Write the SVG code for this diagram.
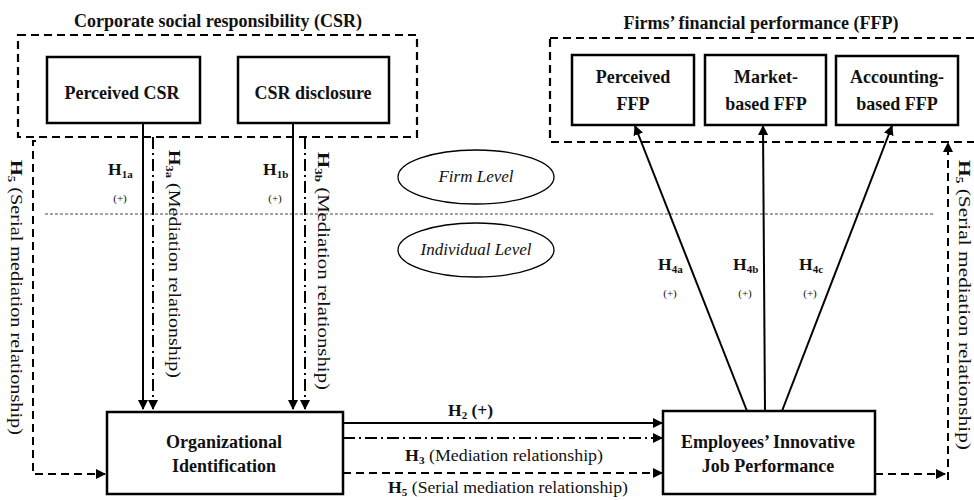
<svg xmlns="http://www.w3.org/2000/svg" width="974" height="500" viewBox="0 0 974 500">
<defs>
<marker id="ah" viewBox="0 0 10 10" refX="9" refY="5" markerWidth="10" markerHeight="10" markerUnits="userSpaceOnUse" orient="auto">
<path d="M0,0 L10,5 L0,10 z" fill="#000"/>
</marker>
</defs>
<style>
text{font-family:"Liberation Serif","Times New Roman",serif;fill:#111;}
.b{font-weight:bold;}
.box{fill:#fff;stroke:#000;stroke-width:2.5;}
.grp{fill:none;stroke:#000;stroke-width:2.2;stroke-dasharray:8,5;}
.solid{fill:none;stroke:#000;stroke-width:2;}
.dd{fill:none;stroke:#000;stroke-width:2;stroke-dasharray:12,4,2,4;}
.dash{fill:none;stroke:#000;stroke-width:2;stroke-dasharray:8,5;}
.ttl{font-size:18px;font-weight:bold;text-anchor:middle;}
.nt{font-size:18px;font-weight:bold;text-anchor:middle;}
.lbl{font-size:17.5px;}
.sm{font-size:11px;}
.pl{font-size:11px;text-anchor:middle;}
.lvl{font-size:17px;font-style:italic;text-anchor:middle;}
</style>

<g id="csr-group">
<rect class="grp" x="18" y="35" width="399" height="102"/>
<text class="ttl" x="218" y="27">Corporate social responsibility (CSR)</text>
</g>
<g id="ffp-group">
<rect class="grp" x="550" y="38" width="440" height="104"/>
<text class="ttl" x="761" y="29">Firms’ financial performance (FFP)</text>
</g>

<g id="levels">
<line x1="45" y1="214" x2="933" y2="214" stroke="#444" stroke-width="1" stroke-dasharray="3,2"/>
<g id="firm-level">
<ellipse cx="476" cy="177" rx="78" ry="27" fill="none" stroke="#000" stroke-width="1.3"/>
<text class="lvl" x="476" y="182">Firm Level</text>
</g>
<g id="individual-level">
<ellipse cx="476" cy="250" rx="78" ry="27" fill="none" stroke="#000" stroke-width="1.3"/>
<text class="lvl" x="476" y="255">Individual Level</text>
</g>
</g>

<g id="connectors">
<line class="solid" x1="143" y1="123" x2="143" y2="409" marker-end="url(#ah)"/>
<line class="dd" x1="153" y1="137" x2="153" y2="409" marker-end="url(#ah)"/>
<line class="solid" x1="293" y1="123" x2="293" y2="409" marker-end="url(#ah)"/>
<line class="dd" x1="305" y1="137" x2="305" y2="409" marker-end="url(#ah)"/>
<line class="solid" x1="343" y1="423" x2="662" y2="423" marker-end="url(#ah)"/>
<line class="dd" x1="343" y1="438" x2="662" y2="438" marker-end="url(#ah)"/>
<line class="dash" x1="343" y1="473" x2="662" y2="473" marker-end="url(#ah)"/>
<polyline class="dash" points="36,141 33,141 33,474 105,474" marker-end="url(#ah)"/>
<line class="dash" x1="875" y1="474" x2="945" y2="474" marker-end="url(#ah)"/>
<line class="dash" x1="948" y1="480" x2="948" y2="143" marker-end="url(#ah)"/>
<line class="solid" x1="747" y1="411" x2="635" y2="126" marker-end="url(#ah)"/>
<line class="solid" x1="765" y1="411" x2="763" y2="126" marker-end="url(#ah)"/>
<line class="solid" x1="782" y1="411" x2="892" y2="126" marker-end="url(#ah)"/>
</g>

<g id="perceived-csr">
<rect class="box" x="47" y="57" width="153" height="66"/>
<text class="nt" x="122" y="99">Perceived CSR</text>
</g>
<g id="csr-disclosure">
<rect class="box" x="238" y="57" width="151" height="66"/>
<text class="nt" x="313" y="99">CSR disclosure</text>
</g>
<g id="perceived-ffp">
<rect class="box" x="572" y="55" width="122" height="70"/>
<text class="nt" x="633" y="83">Perceived</text>
<text class="nt" x="633" y="110">FFP</text>
</g>
<g id="market-ffp">
<rect class="box" x="705" y="55" width="121" height="70"/>
<text class="nt" x="766" y="83">Market-</text>
<text class="nt" x="766" y="110">based FFP</text>
</g>
<g id="accounting-ffp">
<rect class="box" x="836" y="56" width="122" height="69"/>
<text class="nt" x="897" y="83">Accounting-</text>
<text class="nt" x="897" y="110">based FFP</text>
</g>
<g id="org-identification">
<rect class="box" x="107" y="412" width="236" height="82"/>
<text class="nt" x="224" y="448">Organizational</text>
<text class="nt" x="224" y="472">Identification</text>
</g>
<g id="eijp">
<rect class="box" x="663" y="411" width="212" height="83"/>
<text class="nt" x="768" y="448">Employees’ Innovative</text>
<text class="nt" x="768" y="472">Job Performance</text>
</g>

<g id="labels">
<text class="lbl b" x="108" y="175">H<tspan class="sm" dy="3">1a</tspan></text>
<text class="pl" x="120" y="202">(+)</text>
<text class="lbl b" x="263" y="175">H<tspan class="sm" dy="3">1b</tspan></text>
<text class="pl" x="275" y="202">(+)</text>
<text class="lbl b" x="658" y="270">H<tspan class="sm" dy="3">4a</tspan></text>
<text class="pl" x="670" y="297">(+)</text>
<text class="lbl b" x="733" y="270">H<tspan class="sm" dy="3">4b</tspan></text>
<text class="pl" x="745" y="297">(+)</text>
<text class="lbl b" x="799" y="270">H<tspan class="sm" dy="3">4c</tspan></text>
<text class="pl" x="810" y="297">(+)</text>
<text class="lbl b" x="448" y="416">H<tspan class="sm" dy="3">2</tspan><tspan dy="-3"> (+)</tspan></text>
<text class="lbl" x="405" y="461" textLength="198" lengthAdjust="spacingAndGlyphs"><tspan class="b">H</tspan><tspan class="sm b" dy="3">3</tspan><tspan dy="-3"> (Mediation relationship)</tspan></text>
<text class="lbl" x="388" y="493" textLength="240" lengthAdjust="spacingAndGlyphs"><tspan class="b">H</tspan><tspan class="sm b" dy="3">5</tspan><tspan dy="-3"> (Serial mediation relationship)</tspan></text>
<text class="lbl" transform="translate(169,150) rotate(90)" font-size="19" textLength="228" lengthAdjust="spacingAndGlyphs"><tspan class="b">H</tspan><tspan class="sm b" dy="3">3a</tspan><tspan dy="-3"> (Mediation relationship)</tspan></text>
<text class="lbl" transform="translate(318,152) rotate(90)" font-size="19" textLength="238" lengthAdjust="spacingAndGlyphs"><tspan class="b">H</tspan><tspan class="sm b" dy="3">3b</tspan><tspan dy="-3"> (Mediation relationship)</tspan></text>
<text class="lbl" transform="translate(11,160) rotate(90)" font-size="19" textLength="275" lengthAdjust="spacingAndGlyphs"><tspan class="b">H</tspan><tspan class="sm b" dy="3">5</tspan><tspan dy="-3"> (Serial mediation relationship)</tspan></text>
<text class="lbl" transform="translate(959,160) rotate(90)" font-size="19" textLength="290" lengthAdjust="spacingAndGlyphs"><tspan class="b">H</tspan><tspan class="sm b" dy="3">5</tspan><tspan dy="-3"> (Serial mediation relationship)</tspan></text>
</g>
</svg>
